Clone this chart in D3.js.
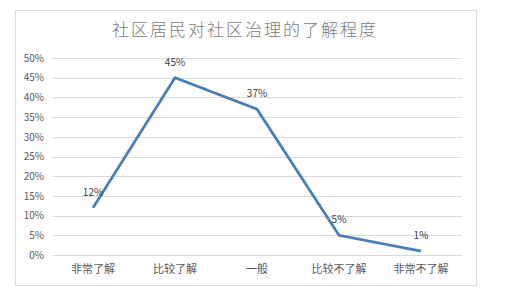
<!DOCTYPE html>
<html>
<head>
<meta charset="utf-8">
<script src="https://cdn.jsdelivr.net/npm/d3@7"></script>
<style>
  body { margin: 0; background: #fff; }
  svg { display: block; font-family: "Noto Sans CJK SC", "Microsoft YaHei", sans-serif; }
</style>
</head>
<body>
<svg id="chart" width="520" height="293"></svg>
<script>
const categories = ["非常了解", "比较了解", "一般", "比较不了解", "非常不了解"];
const values = [12, 45, 37, 5, 1];
const yTicks = [0, 5, 10, 15, 20, 25, 30, 35, 40, 45, 50];
const title = "社区居民对社区治理的了解程度";

const svg = d3.select("#chart");

// chart frame
svg.append("rect")
  .attr("x", 15.5).attr("y", 10.5)
  .attr("width", 461).attr("height", 275)
  .attr("fill", "#fff").attr("stroke", "#d9d9d9");

svg.append("text")
  .attr("x", 245).attr("y", 36)
  .attr("text-anchor", "middle")
  .attr("font-size", 17).attr("letter-spacing", 2)
  .attr("font-weight", 300)
  .attr("fill", "#7a7a7a")
  .text(title);

const x = d3.scaleBand().domain(categories).range([52, 462]);
const y = d3.scaleLinear().domain([0, 50]).range([255, 58]);

// gridlines
svg.append("g")
  .selectAll("line")
  .data(yTicks)
  .join("line")
  .attr("x1", 52).attr("x2", 462)
  .attr("y1", d => Math.round(y(d)) + 0.5)
  .attr("y2", d => Math.round(y(d)) + 0.5)
  .attr("stroke", "#d9d9d9");

// y axis labels
const yAxis = svg.append("g")
  .attr("transform", "translate(44,0)")
  .call(d3.axisLeft(y).tickValues(yTicks).tickSize(0).tickFormat(d => d + "%"));
yAxis.select(".domain").remove();
yAxis.selectAll("text")
  .attr("x", 0)
  .attr("font-size", 10)
  .attr("font-family", "Noto Sans CJK SC, sans-serif")
  .attr("fill", "#595959");

// x axis labels
const xAxis = svg.append("g")
  .attr("transform", "translate(0,262)")
  .call(d3.axisBottom(x).tickSize(0));
xAxis.select(".domain").remove();
xAxis.selectAll("text")
  .attr("font-size", 11)
  .attr("font-family", "Noto Sans CJK SC, sans-serif")
  .attr("fill", "#595959");

const cx = d => x(d) + x.bandwidth() / 2;

// line
svg.append("path")
  .datum(values)
  .attr("fill", "none")
  .attr("stroke", "#4a7ebb")
  .attr("stroke-width", 2.75)
  .attr("d", d3.line().x((d, i) => cx(categories[i])).y(d => y(d)));

// data labels
svg.append("g")
  .selectAll("text")
  .data(values)
  .join("text")
  .attr("x", (d, i) => cx(categories[i]))
  .attr("y", d => y(d) - 12)
  .attr("text-anchor", "middle")
  .attr("font-size", 10)
  .attr("fill", "#404040")
  .text(d => d + "%");
</script>
</body>
</html>
